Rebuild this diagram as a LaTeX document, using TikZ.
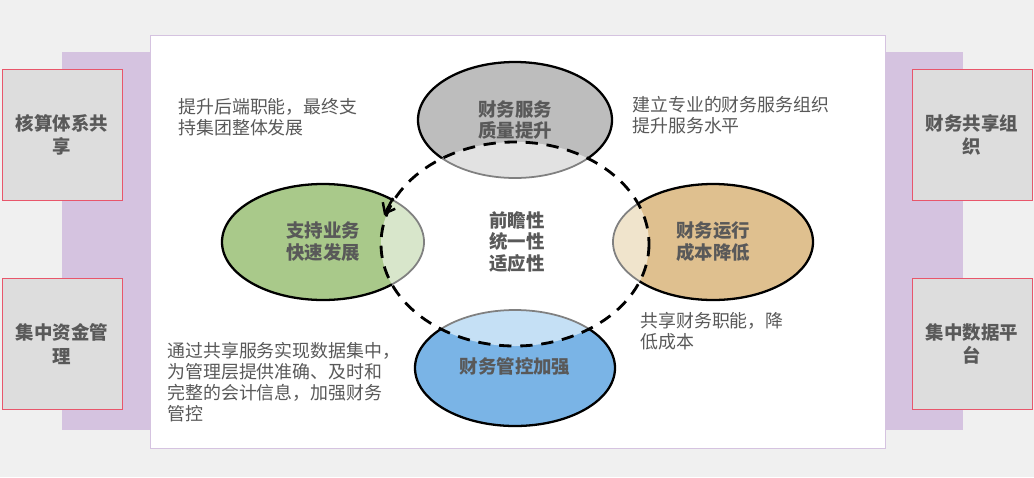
\documentclass[tikz,border=0pt]{standalone}
\usepackage{fontspec}
\setmainfont{Noto Sans CJK SC}
\usetikzlibrary{arrows.meta}
\definecolor{txt}{HTML}{595959}
\definecolor{bandc}{HTML}{D5C3E0}
\definecolor{pinkb}{HTML}{E8566B}
\definecolor{boxc}{HTML}{DDDDDD}
\definecolor{gD}{HTML}{BDBDBD}\definecolor{gL}{HTML}{E2E2E2}
\definecolor{grD}{HTML}{A9C98A}\definecolor{grL}{HTML}{D8E6CB}
\definecolor{tD}{HTML}{DFC08F}\definecolor{tL}{HTML}{F0E4CC}
\definecolor{bD}{HTML}{7AB4E6}\definecolor{bL}{HTML}{C5E0F5}
\tikzset{
 sidebox/.style={draw=pinkb,fill=boxc,minimum width=2.4cm,minimum height=2.62cm,align=center,text=txt,font=\bfseries\fontsize{10.5}{13.5}\selectfont},
 note/.style={align=left,anchor=north west,text=txt,font=\fontsize{10.2}{12}\selectfont,inner sep=0pt},
 elab/.style={align=center,text=txt,font=\bfseries\fontsize{10.5}{12.5}\selectfont},
}
\begin{document}
\begin{tikzpicture}[x=0.02cm,y=-0.02cm]
\useasboundingbox (0,0) rectangle (1034,477);
\fill[gray!12] (0,0) rectangle (1034,477);
\fill[bandc] (62,52) rectangle (150,430);
\fill[bandc] (885,52) rectangle (963,430);
\draw[bandc,fill=white] (150,35) rectangle (885,448);
\node[sidebox] (b1) at (62,135) {核算体系共\\享};
\node[sidebox] (b2) at (62,344) {集中资金管\\理};
\node[sidebox] (b3) at (972,135) {财务共享组\\织};
\node[sidebox] (b4) at (972,344) {集中数据平\\台};
\def\ell#1#2#3#4#5#6{%
 \fill[#5] (#1,#2) ellipse [x radius=#3,y radius=#4];
 \begin{scope}
 \clip (515,244) ellipse [x radius=134,y radius=102];
 \fill[#6,draw=gray,line width=1pt] (#1,#2) ellipse [x radius=#3,y radius=#4];
 \end{scope}
}
\ell{515}{120}{97}{58}{gD}{gL}
\ell{323}{242}{101}{58}{grD}{grL}
\ell{713}{242}{100}{58}{tD}{tL}
\ell{515}{368}{100}{58}{bD}{bL}
\begin{scope}[even odd rule]
\clip (0,0) rectangle (1034,477) (515,244) ellipse [x radius=134,y radius=102];
\foreach \cx/\cy/\rx in {515/120/97,323/242/101,713/242/100,515/368/100}
  \draw[black,line width=1.3pt] (\cx,\cy) ellipse [x radius=\rx,y radius=58];
\end{scope}
\draw[line width=1.6pt,dash pattern=on 7pt off 5pt] (515,244) ellipse [x radius=134,y radius=102];
\coordinate (a1) at (393,198);
\coordinate (a2) at (384,215);
\draw[line width=1.4pt,-{Straight Barb[length=5pt,width=8pt]}] (a1) -- (a2);
\node[elab] (e1) at (515,120) {财务服务\\质量提升};
\node[elab] (e2) at (323,242) {支持业务\\快速发展};
\node[elab] (e3) at (713,242) {财务运行\\成本降低};
\node[elab] (e4) at (515,366) {财务管控加强};
\node[elab] (c) at (517,242) {前瞻性\\统一性\\适应性};
\node[note] (n1) at (178,98) {提升后端职能，最终支\\持集团整体发展};
\node[note] (n2) at (632,96) {建立专业的财务服务组织\\提升服务水平};
\node[note] (n3) at (640,312) {共享财务职能，降\\低成本};
\node[note] (n4) at (167,342) {通过共享服务实现数据集中，\\为管理层提供准确、及时和\\完整的会计信息，加强财务\\管控};
\end{tikzpicture}
\end{document}
